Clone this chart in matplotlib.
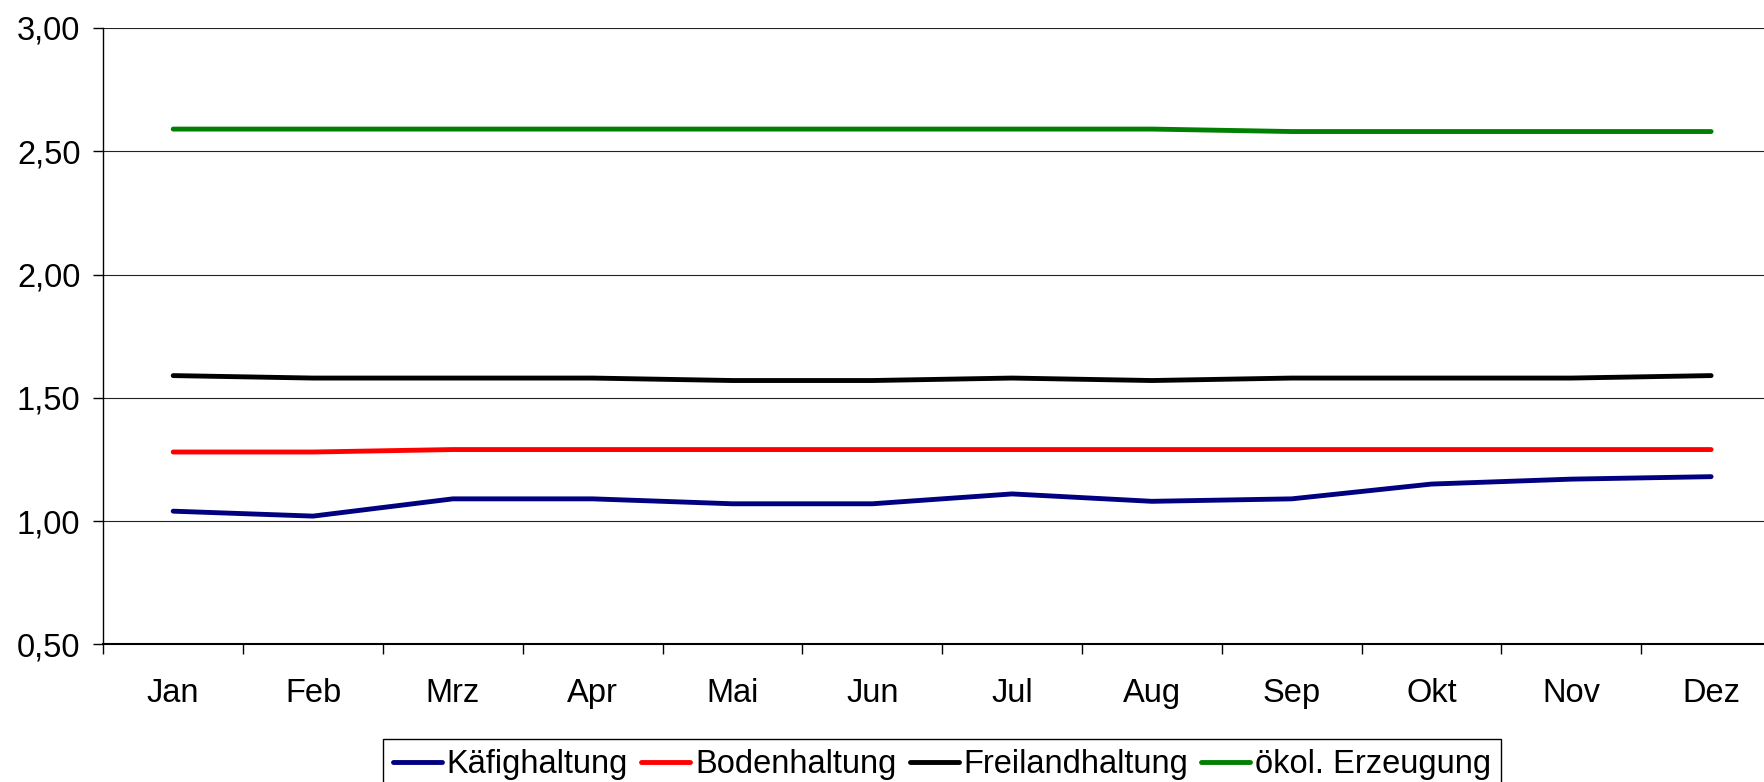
import matplotlib
matplotlib.use("Agg")
import matplotlib.pyplot as plt
from matplotlib.ticker import FixedLocator, FuncFormatter, NullFormatter

plt.rcParams['font.family'] = ['Liberation Sans', 'DejaVu Sans']

months = ["Jan", "Feb", "Mrz", "Apr", "Mai", "Jun", "Jul", "Aug", "Sep", "Okt", "Nov", "Dez"]
kaefig = [1.04, 1.02, 1.09, 1.09, 1.07, 1.07, 1.11, 1.08, 1.09, 1.15, 1.17, 1.18]
boden = [1.28, 1.28, 1.29, 1.29, 1.29, 1.29, 1.29, 1.29, 1.29, 1.29, 1.29, 1.29]
freiland = [1.59, 1.58, 1.58, 1.58, 1.57, 1.57, 1.58, 1.57, 1.58, 1.58, 1.58, 1.59]
oeko = [2.59, 2.59, 2.59, 2.59, 2.59, 2.59, 2.59, 2.59, 2.58, 2.58, 2.58, 2.58]
series_names = ["Käfighaltung", "Bodenhaltung", "Freilandhaltung", "ökol. Erzeugung"]
series_colors = ["#000080", "#FF0000", "#000000", "#008000"]
yticks = [0.5, 1.0, 1.5, 2.0, 2.5, 3.0]

W, H = 1765, 782
FS = 23.5
fig = plt.figure(figsize=(W / 100, H / 100), dpi=100)
left = 103.3 / W
right = 1781 / W
bottom = 1 - 644.3 / H
top = 1 - 28 / H
ax = fig.add_axes([left, bottom, right - left, top - bottom])

x = [i + 0.5 for i in range(len(months))]
for vals, name, col in zip([kaefig, boden, freiland, oeko], series_names, series_colors):
    ax.plot(x, vals, color=col, lw=3.5, label=name, solid_capstyle='round',
            solid_joinstyle='round', zorder=3)

ax.set_xlim(0, 12)
ax.set_ylim(0.5, 3.0)

ax.yaxis.set_major_locator(FixedLocator(yticks))
ax.yaxis.set_major_formatter(FuncFormatter(lambda v, p: f"{v:.2f}".replace(".", ",")))
ax.xaxis.set_major_locator(FixedLocator(list(range(0, 13))))
ax.xaxis.set_major_formatter(NullFormatter())
ax.xaxis.set_minor_locator(FixedLocator(x))
ax.set_xticklabels(months, minor=True)

ax.tick_params(axis='y', which='major', length=7, width=1, direction='out',
               labelsize=FS, pad=9.5, colors='black')
ax.tick_params(axis='x', which='major', length=7, width=1, direction='out')
ax.tick_params(axis='x', which='minor', length=0, labelsize=FS, pad=24.5)

ax.grid(axis='y', color='#222222', lw=0.8, zorder=1)
for s in ['top', 'right']:
    ax.spines[s].set_visible(False)
ax.spines['left'].set_linewidth(1.0)
ax.spines['bottom'].set_linewidth(1.5)

leg = fig.legend(loc='upper center', bbox_to_anchor=((left + right) / 2, 1 - 739.3 / H),
                 ncol=4, fontsize=FS, frameon=True, fancybox=False, edgecolor='black',
                 framealpha=1, borderaxespad=0, handlelength=1.5, handletextpad=0.15,
                 columnspacing=0.4, borderpad=0.3)
leg.get_frame().set_linewidth(1.0)

fig.savefig("out.png", dpi=100)
